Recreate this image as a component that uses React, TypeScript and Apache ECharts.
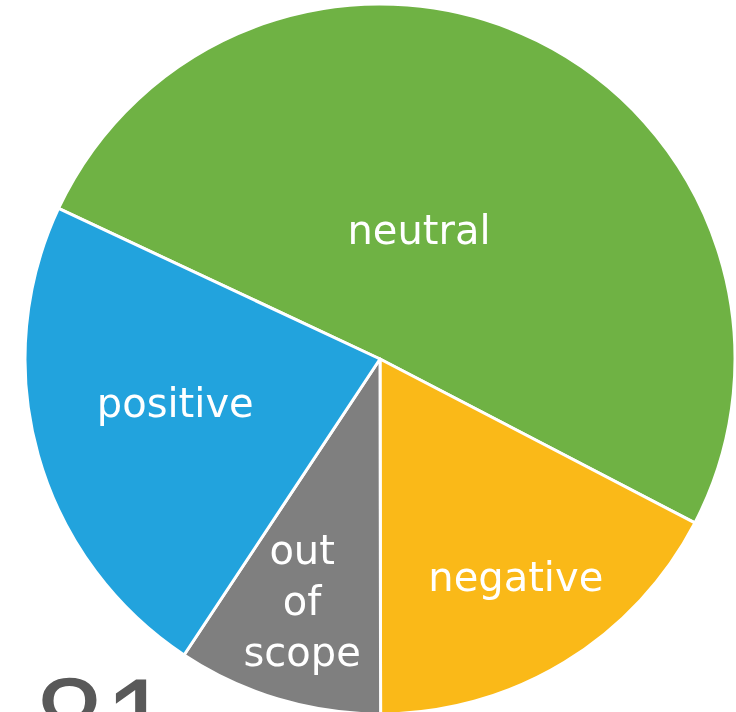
import React, { useEffect, useRef } from "react";
import * as echarts from "echarts";

const categories = ["neutral", "negative", "out of scope", "positive"];
const values = [76, 26, 14, 34];
const totalLabel = "81";

const colors: Record<string, string> = {
  neutral: "#6FB244",
  negative: "#FAB918",
  "out of scope": "#7F7F7F",
  positive: "#22A3DD",
};

const labelOffsets: Record<string, [number, number]> = {
  neutral: [-41, 33],
  negative: [42, 64],
  "out of scope": [-26, 69],
  positive: [-31, -5],
};

export default function App() {
  const ref = useRef<HTMLDivElement>(null);
  useEffect(() => {
    if (!ref.current) return;
    const chart = echarts.init(ref.current, undefined, { renderer: "svg" });
    chart.setOption({
      animation: false,
      graphic: [
        {
          type: "text",
          x: 35,
          y: 722,
          z: 10,
          style: {
            text: totalLabel,
            fill: "#595959",
            font: "124px 'Liberation Sans', Arial, sans-serif",
            textAlign: "left",
            textVerticalAlign: "middle",
          },
        },
      ],
      series: [
        {
          type: "pie",
          center: [380, 359],
          radius: 355,
          startAngle: 154.9,
          clockwise: true,
          silent: true,
          itemStyle: { borderColor: "#ffffff", borderWidth: 3 },
          label: {
            show: true,
            position: "inside",
            color: "#ffffff",
            fontFamily: "'DejaVu Sans', Verdana, sans-serif",
            fontSize: 40,
            lineHeight: 51,
            align: "center",
            formatter: (p: any) =>
              String(p.name).split(" ").length > 2
                ? String(p.name).split(" ").join("\n")
                : p.name,
          },
          labelLine: { show: false },
          data: categories.map((c, i) => ({
            name: c,
            value: values[i],
            itemStyle: { color: colors[c] },
            label: { offset: labelOffsets[c] },
          })),
        },
      ],
    });
    return () => chart.dispose();
  }, []);
  return (
    <div
      ref={ref}
      style={{ position: "fixed", left: 0, top: 0, width: 736, height: 712 }}
    />
  );
}
